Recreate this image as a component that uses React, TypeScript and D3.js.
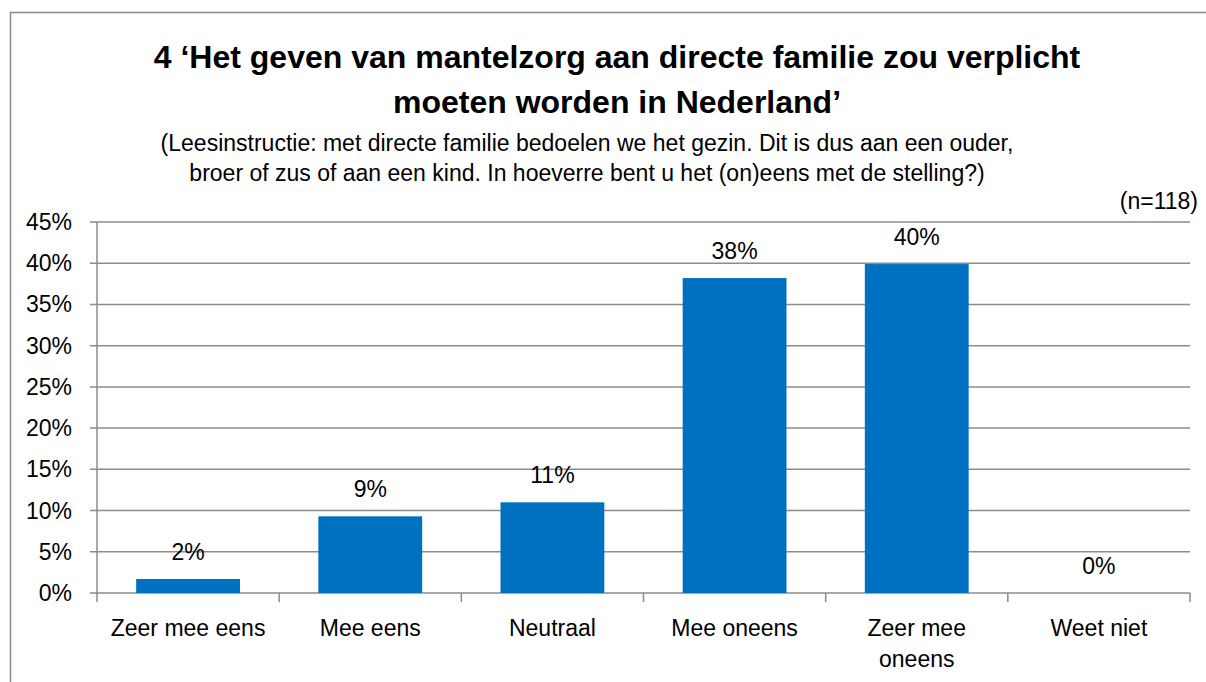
import React from "react";
import * as d3 from "d3";

const categories: string[][] = [
  ["Zeer mee eens"],
  ["Mee eens"],
  ["Neutraal"],
  ["Mee oneens"],
  ["Zeer mee", "oneens"],
  ["Weet niet"],
];
const values: number[] = [1.7, 9.3, 11.0, 38.2, 39.9, 0];
const valueLabels: string[] = ["2%", "9%", "11%", "38%", "40%", "0%"];
const yTicks: number[] = [0, 5, 10, 15, 20, 25, 30, 35, 40, 45];

const titleLines = [
  "4 \u2018Het geven van mantelzorg aan directe familie zou verplicht",
  "moeten worden in Nederland\u2019",
];
const subtitleLines = [
  "(Leesinstructie: met directe familie bedoelen we het gezin. Dit is dus aan een ouder,",
  "broer of zus of aan een kind. In hoeverre bent u het (on)eens met de stelling?)",
];
const nLabel = "(n=118)";

export default function App() {
  const W = 1206;
  const H = 682;
  const left = 97;
  const right = 1190;
  const top = 222;
  const bottom = 593;
  const font = "'Liberation Sans', Arial, sans-serif";
  const grid = "#8c8c8c";

  const x = d3
    .scaleBand<number>()
    .domain(categories.map((_, i) => i))
    .range([left, right])
    .paddingInner(0.43)
    .paddingOuter(0.215);
  const band = (right - left) / categories.length;
  const y = d3.scaleLinear().domain([0, 45]).range([bottom, top]);

  return (
    <svg
      width={W}
      height={H}
      style={{ position: "absolute", left: 0, top: 0, display: "block" }}
      fontFamily={font}
    >
      <rect x={0} y={0} width={W} height={H} fill="#fff" />
      <rect x={10.5} y={12.5} width={1220} height={720} fill="none" stroke="#8a8a8a" strokeWidth={1.5} />

      {titleLines.map((t, i) => (
        <text key={i} x={617} y={68 + i * 45} textAnchor="middle" fontSize={32} fontWeight="bold" fill="#000">
          {t}
        </text>
      ))}
      {subtitleLines.map((t, i) => (
        <text key={i} x={587} y={151 + i * 30} textAnchor="middle" fontSize={23} fill="#000">
          {t}
        </text>
      ))}
      <text x={1198} y={209} textAnchor="end" fontSize={23} fill="#000">
        {nLabel}
      </text>

      {yTicks.map((t) => (
        <g key={t}>
          <line x1={90} x2={right} y1={y(t)} y2={y(t)} stroke={grid} strokeWidth={1.5} />
          <text x={72} y={y(t) + 8} textAnchor="end" fontSize={23} fill="#000">
            {t}%
          </text>
        </g>
      ))}
      <line x1={left} x2={left} y1={top} y2={bottom + 9} stroke={grid} strokeWidth={1.5} />
      {categories.map((_, i) => (
        <line
          key={i}
          x1={left + band * (i + 1)}
          x2={left + band * (i + 1)}
          y1={bottom}
          y2={bottom + 9}
          stroke={grid}
          strokeWidth={1.5}
        />
      ))}

      {values.map((v, i) => (
        <rect
          key={i}
          x={x(i)!}
          y={y(v)}
          width={x.bandwidth()}
          height={bottom - y(v)}
          fill="#0070C0"
        />
      ))}
      {values.map((v, i) => (
        <text
          key={i}
          x={x(i)! + x.bandwidth() / 2}
          y={y(v) - 19}
          textAnchor="middle"
          fontSize={23}
          fill="#000"
        >
          {valueLabels[i]}
        </text>
      ))}

      {categories.map((lines, i) =>
        lines.map((l, j) => (
          <text
            key={i + "-" + j}
            x={x(i)! + x.bandwidth() / 2}
            y={636 + j * 31}
            textAnchor="middle"
            fontSize={23}
            fill="#000"
          >
            {l}
          </text>
        ))
      )}
    </svg>
  );
}
